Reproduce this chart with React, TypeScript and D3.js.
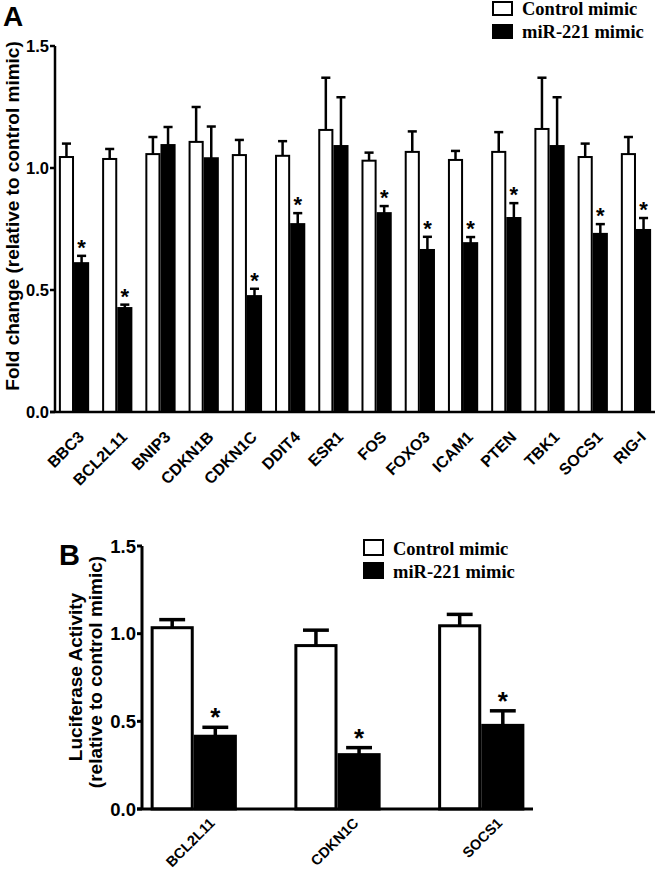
import React from 'react';
import * as d3 from 'd3';

// panel A: qPCR fold change
const genesA = ['BBC3', 'BCL2L11', 'BNIP3', 'CDKN1B', 'CDKN1C', 'DDIT4', 'ESR1', 'FOS', 'FOXO3', 'ICAM1', 'PTEN', 'TBK1', 'SOCS1', 'RIG-I'];
const controlA = [1.045, 1.037, 1.057, 1.107, 1.053, 1.05, 1.156, 1.03, 1.066, 1.033, 1.066, 1.16, 1.045, 1.057];
const controlErrA = [0.055, 0.041, 0.07, 0.143, 0.062, 0.06, 0.214, 0.033, 0.084, 0.037, 0.081, 0.21, 0.055, 0.07];
const mimicA = [0.61, 0.426, 1.094, 1.04, 0.475, 0.77, 1.09, 0.815, 0.664, 0.692, 0.795, 1.09, 0.73, 0.746];
const mimicErrA = [0.03, 0.014, 0.074, 0.13, 0.03, 0.045, 0.2, 0.029, 0.054, 0.025, 0.061, 0.2, 0.04, 0.049];
const starsA = [true, true, false, false, true, true, false, true, true, true, true, false, true, true];

// panel B: luciferase
const genesB = ['BCL2L11', 'CDKN1C', 'SOCS1'];
const controlB = [1.034, 0.932, 1.045];
const controlErrB = [0.046, 0.088, 0.065];
const mimicB = [0.415, 0.31, 0.477];
const mimicErrB = [0.051, 0.04, 0.083];
const starsB = [true, true, true];

const yTicks = [0, 0.5, 1.0, 1.5];
const legendLabels = ['Control mimic', 'miR-221 mimic'];

const SANS = '"Liberation Sans", Arial, sans-serif';
const SERIF = '"Liberation Serif", "Times New Roman", serif';

type PanelProps = {
  genes: string[];
  ctrl: number[];
  ctrlErr: number[];
  mir: number[];
  mirErr: number[];
  stars: boolean[];
  x0: number;
  x1: number;
  yTop: number;
  yBottom: number;
  padInner: number;
  padOuter: number;
  axisW: number;
  barStroke: number;
  tickFont: number;
  labelFont: number;
  starFont: number;
  labelDx: number;
  labelDy: number;
};

function BarPanel(p: PanelProps) {
  const x = d3.scaleBand<string>().domain(p.genes).range([p.x0, p.x1]).paddingInner(p.padInner).paddingOuter(p.padOuter);
  const sub = d3.scaleBand<string>().domain(['ctrl', 'mir']).range([0, x.bandwidth()]);
  const y = d3.scaleLinear().domain([0, 1.5]).range([p.yBottom, p.yTop]);
  const bw = sub.bandwidth();
  const capW = bw * 0.6;

  const bar = (g: string, key: string, v: number, e: number, filled: boolean, star: boolean) => {
    const bx = (x(g) as number) + (sub(key) as number);
    const cx = bx + bw / 2;
    return (
      <g key={g + key}>
        <line x1={cx} x2={cx} y1={y(v)} y2={y(v + e)} stroke="#000" strokeWidth={p.barStroke + 0.5} />
        <line x1={cx - capW / 2} x2={cx + capW / 2} y1={y(v + e)} y2={y(v + e)} stroke="#000" strokeWidth={p.barStroke + 0.5} />
        <rect x={bx + p.barStroke / 2} y={y(v)} width={bw - p.barStroke} height={y(0) - y(v)}
          fill={filled ? '#000' : '#fff'} stroke="#000" strokeWidth={p.barStroke} />
        {star && (
          <text x={cx} y={y(v + e) - 1} textAnchor="middle" fontFamily={SANS} fontWeight="bold" fontSize={p.starFont}>*</text>
        )}
      </g>
    );
  };

  return (
    <g>
      {p.genes.map((g, i) => (
        <g key={g}>
          {bar(g, 'ctrl', p.ctrl[i], p.ctrlErr[i], false, false)}
          {bar(g, 'mir', p.mir[i], p.mirErr[i], true, p.stars[i])}
        </g>
      ))}
      {/* axes */}
      <line x1={p.x0} x2={p.x0} y1={y(1.5)} y2={y(0)} stroke="#000" strokeWidth={p.axisW} />
      <line x1={p.x0 - 5} x2={p.x1} y1={y(0)} y2={y(0)} stroke="#000" strokeWidth={p.axisW} />
      {yTicks.map(t => (
        <g key={t}>
          <line x1={p.x0 - 5} x2={p.x0} y1={y(t)} y2={y(t)} stroke="#000" strokeWidth={p.axisW} />
          <text x={p.x0 - 6} y={y(t)} dy="0.36em" textAnchor="end" fontFamily={SANS} fontWeight="bold" fontSize={p.tickFont}>
            {t.toFixed(1)}
          </text>
        </g>
      ))}
      {/* rotated category labels */}
      {p.genes.map(g => {
        const ax = (x(g) as number) + x.bandwidth() / 2 + p.labelDx;
        const ay = y(0) + p.labelDy;
        return (
          <text key={g} transform={`translate(${ax.toFixed(1)},${ay.toFixed(1)}) rotate(-45)`} textAnchor="end"
            fontFamily={SANS} fontWeight="bold" fontSize={p.labelFont}>{g}</text>
        );
      })}
    </g>
  );
}

function Legend({ x, y, w, h, gap, font }: { x: number; y: number; w: number; h: number; gap: number; font: number }) {
  return (
    <g>
      {legendLabels.map((l, i) => (
        <g key={l}>
          <rect x={x} y={y + i * gap} width={w} height={h} fill={i === 0 ? '#fff' : '#000'} stroke="#000" strokeWidth={2} />
          <text x={x + w + 10} y={y + i * gap + h} fontFamily={SERIF} fontWeight="bold" fontSize={font}>{l}</text>
        </g>
      ))}
    </g>
  );
}

export default function App() {
  return (
    <svg width={658} height={871} style={{ position: 'absolute', left: 0, top: 0, background: '#fff' }}>
      <rect width={658} height={871} fill="#fff" />
      {/* Panel A */}
      <text x={3} y={26} fontFamily={SANS} fontWeight="bold" fontSize={28}>A</text>
      <Legend x={493} y={2} w={19} h={13} gap={23} font={18.5} />
      <text transform="translate(19,216) rotate(-90)" textAnchor="middle" fontFamily={SANS} fontWeight="bold" fontSize={19}>
        Fold change (relative to control mimic)
      </text>
      <BarPanel genes={genesA} ctrl={controlA} ctrlErr={controlErrA} mir={mimicA} mirErr={mimicErrA} stars={starsA}
        x0={55} x1={655} yTop={46} yBottom={412} padInner={0.3} padOuter={0.09} axisW={2.5} barStroke={2}
        tickFont={16.5} labelFont={16} starFont={22} labelDx={11} labelDy={26} />

      {/* Panel B */}
      <text x={59} y={565} fontFamily={SANS} fontWeight="bold" fontSize={29}>B</text>
      <Legend x={364} y={540} w={19} h={15} gap={23} font={18.5} />
      <text transform="translate(82,677) rotate(-90)" textAnchor="middle" fontFamily={SANS} fontWeight="bold" fontSize={19}>
        Luciferase Activity
      </text>
      <text transform="translate(102,672) rotate(-90)" textAnchor="middle" fontFamily={SANS} fontWeight="bold" fontSize={19}>
        (relative to control mimic)
      </text>
      <BarPanel genes={genesB} ctrl={controlB} ctrlErr={controlErrB} mir={mimicB} mirErr={mimicErrB} stars={starsB}
        x0={142} x1={533} yTop={546} yBottom={809} padInner={0.4} padOuter={0.06} axisW={3} barStroke={3}
        tickFont={18.5} labelFont={14.5} starFont={26} labelDx={22} labelDy={15} />
    </svg>
  );
}
